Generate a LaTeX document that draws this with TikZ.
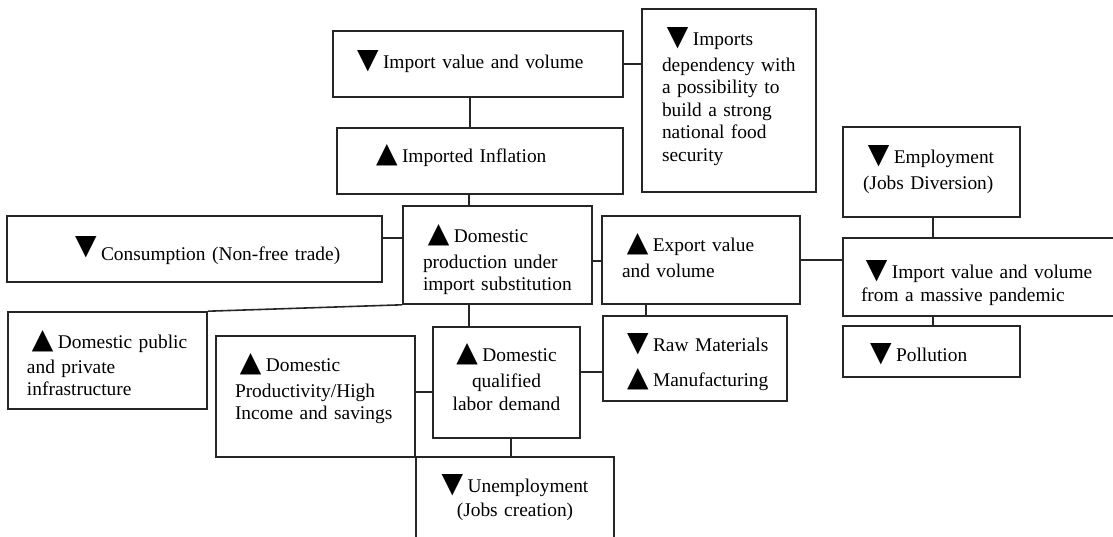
\documentclass[tikz,border=0pt]{standalone}
\usepackage{fontspec}
\setmainfont{Liberation Serif}
\newfontfamily\symf{DejaVu Sans}
\newcommand\fsz{\fontsize{19.4}{22.5}\selectfont}
\newcommand\dn{\smash{\symf\fontsize{28}{28}\selectfont ▼}\hspace{4.5pt}}
\newcommand\dnr{\smash{\raisebox{6pt}{\symf\fontsize{28}{28}\selectfont ▼}}\hspace{4.5pt}}
\newcommand\up{\smash{\symf\fontsize{28}{28}\selectfont ▲}\hspace{4.5pt}}
\newcommand\ind{\hspace*{0.25em}}
\newcommand\Lx[1]{\mbox{#1}}
\newcommand\TA[1]{\rule{0pt}{#1pt}}
\newcommand\TB[1]{\rule[-#1pt]{0pt}{0pt}}
\tikzset{
  box/.style={draw=black!85, line width=1.6pt, rectangle, inner ysep=0pt, font=\fsz, align=left},
  cbox/.style={draw=black!85, line width=1.6pt, rectangle, inner ysep=0pt, inner xsep=2pt, font=\fsz, align=center},
  link/.style={draw=black!85, line width=1.6pt}
}
\begin{document}
\begin{tikzpicture}[x=1pt,y=-1pt]
\useasboundingbox (0,0) rectangle (1113,536);
% boxes
\node[box, minimum width=290pt, minimum height=66pt, text width=242pt, inner xsep=24pt] (imp) at (478,64)
  {\Lx{\TA{16}\dn Import value and volume\TB{7}}};
\node[box, minimum width=174pt, minimum height=183pt, text width=134pt, inner xsep=20pt] (dep) at (729,100.5)
  {\Lx{\TA{16}\ind\dn Imports}\\[3.5pt]\Lx{dependency with}\\\Lx{a possibility to}\\\Lx{build a strong}\\\Lx{national food}\\\Lx{security\TB{11}}};
\node[box, minimum width=286pt, minimum height=66pt, text width=208pt, inner xsep=39pt] (inf) at (480,161)
  {\Lx{\TA{16}\up Imported Inflation\TB{13}}};
\node[box, minimum width=177pt, minimum height=90pt, text width=137pt, inner xsep=20pt] (emp) at (931.5,172)
  {\Lx{\TA{16}\ind\dn Employment}\\[3.5pt]\Lx{(Jobs Diversion)\TB{7}}};
\node[box, minimum width=375pt, minimum height=66pt, text width=239pt, inner xsep=68pt] (con) at (194.5,249)
  {\Lx{\TA{28}\dnr Consumption (Non-free trade)\TB{6}}};
\node[box, minimum width=189pt, minimum height=98pt, text width=149pt, inner xsep=20pt] (dom) at (497.5,255)
  {\Lx{\TA{29}\ind\up Domestic}\\[3pt]\Lx{production under}\\\Lx{import substitution\TB{6}}};
\node[box, minimum width=198pt, minimum height=88pt, text width=158pt, inner xsep=20pt] (exp) at (701,260)
  {\Lx{\TA{16}\ind\up Export value}\\[3.5pt]\Lx{and volume\TB{7}}};
\node[box, minimum width=280pt, minimum height=78pt, text width=244pt, inner xsep=18pt] (pan) at (983,277)
  {\Lx{\TA{31}\ind\dn Import value and volume}\\[0.5pt]\Lx{from a massive pandemic\TB{6}}};
\node[box, minimum width=199pt, minimum height=97pt, text width=161pt, inner xsep=19pt] (pub) at (107.5,360.5)
  {\Lx{\TA{29}\ind\up Domestic public}\\[2.5pt]\Lx{and private}\\\Lx{infrastructure\TB{6}}};
\node[box, minimum width=199pt, minimum height=121pt, text width=161pt, inner xsep=19pt] (pro) at (315.5,396.5)
  {\Lx{\TA{16}\ind\up Domestic}\\[3pt]\Lx{Productivity/High}\\\Lx{Income and savings\TB{18}}};
\node[cbox, minimum width=147pt, minimum height=111pt, text width=143pt] (qua) at (506.5,382.5)
  {\TA{16}\up Domestic\\[3.5pt]qualified\\labor demand\TB{9.5}};
\node[box, minimum width=184pt, minimum height=85pt, text width=136pt, inner xsep=24pt] (raw) at (695,358.5)
  {\Lx{\TA{27}\dn Raw Materials}\\[12.5pt]\Lx{\up Manufacturing\TB{6}}};
\node[box, minimum width=177pt, minimum height=51pt, text width=123pt, inner xsep=27pt] (pol) at (931.5,351.5)
  {\Lx{\TA{26}\dn Pollution\TB{6}}};
\node[cbox, minimum width=198pt, minimum height=88pt, text width=194pt] (une) at (515,501)
  {\TA{16}\dn Unemployment\\[1.5pt](Jobs creation)\TB{9}};
% connectors
\draw[link] (imp.south -| 470,0) -- (inf.north -| 470,0);
\draw[link] (imp.east) -- (imp.east -| dep.west);
\draw[link] (inf.south -| 469,0) -- (dom.north -| 469,0);
\draw[link] (con.east |- 0,238) -- (dom.west |- 0,238);
\draw[link] (dom.east |- 0,261) -- (exp.west |- 0,261);
\draw[link] (dom.south -| 469,0) -- (qua.north -| 469,0);
\draw[link] (dom.south west) -- (pub.north east);
\draw[link] (exp.east |- 0,260) -- (pan.west |- 0,260);
\draw[link] (exp.south -| 646,0) -- (raw.north -| 646,0);
\draw[link] (emp.south -| 933,0) -- (pan.north -| 933,0);
\draw[link] (pan.south -| 933,0) -- (pol.north -| 933,0);
\draw[link] (pro.east |- 0,392) -- (qua.west |- 0,392);
\draw[link] (qua.east |- 0,372) -- (raw.west |- 0,372);
\draw[link] (qua.south -| 511,0) -- (une.north -| 511,0);
\end{tikzpicture}
\end{document}
